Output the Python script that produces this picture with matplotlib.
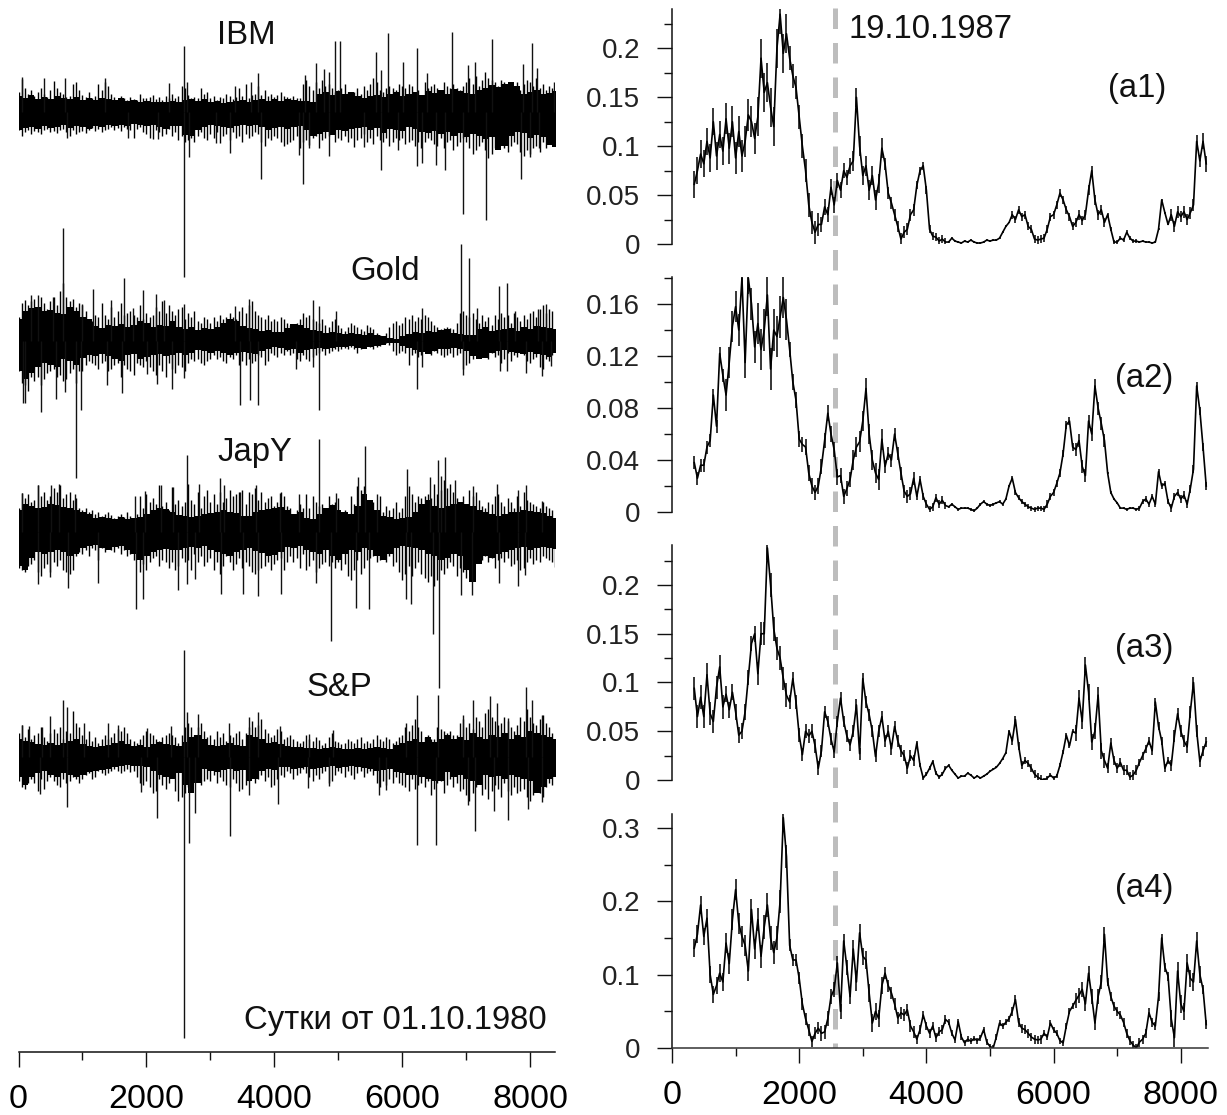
import numpy as np
import matplotlib
matplotlib.use('Agg')
import matplotlib.pyplot as plt

W, H = 1227, 1115

# left panel: solid core of each noisy band, pixels above / below its centre, one value per 100 days
ibm_up = [16,14,17,13,15,13,16,14,13,15,12,14,12,14,13,12,14,11,12,10,11,10,10,10,11,10,12,13,11,13,
          10,11,9,10,11,12,10,12,13,11,13,11,13,12,11,11,10,18,20,17,21,18,20,16,14,16,17,15,18,20,
          16,18,20,17,21,19,22,18,23,21,19,18,22,24,27,25,28,30,26,18,20,22,18,19,21,17]
ibm_dn = [18,16,15,17,14,16,15,13,16,14,15,17,14,15,13,14,13,14,12,13,14,13,15,17,14,14,23,24,18,15,
          13,14,15,16,14,13,14,13,15,18,16,15,17,15,14,18,24,22,20,23,18,19,17,16,15,18,16,21,17,18,
          19,15,17,20,21,19,22,20,24,21,25,22,24,27,25,38,34,24,20,21,26,23,25,33,35,28,22]
gold_up = [22,30,33,34,30,31,28,27,34,30,24,22,15,13,16,15,17,14,16,20,18,14,16,15,20,14,12,14,11,13,
           12,14,18,22,20,15,13,12,10,11,9,9,13,17,16,13,11,10,8,9,8,7,8,7,6,8,6,5,3,2,
           5,7,9,8,10,9,11,12,8,7,6,6,12,14,10,11,12,13,10,14,12,15,14,13,12]
gold_dn = [30,38,32,26,22,24,26,18,20,24,17,14,15,13,15,18,20,14,13,18,16,14,13,15,14,12,14,12,9,10,
           12,10,12,14,12,11,12,13,10,8,6,7,9,8,12,9,8,7,8,7,6,6,5,7,8,6,5,4,2,2,
           5,7,9,11,13,10,8,8,7,8,10,15,18,17,12,10,9,11,12,13,11,13,14,16,12]
jap_up = [22,28,26,24,25,28,27,25,24,22,20,18,14,15,14,13,15,13,14,15,18,22,24,23,20,17,16,15,16,18,
          19,20,22,20,19,16,16,20,22,23,24,25,22,18,20,14,13,18,24,27,22,20,18,26,38,32,22,16,15,13,
          14,15,20,28,32,26,24,26,28,30,28,26,22,20,18,16,18,20,20,22,21,20,19,16,14]
jap_dn = [34,38,26,20,22,20,18,20,24,22,16,14,13,16,18,15,14,18,22,28,24,20,18,17,18,18,16,15,16,14,
          18,20,22,24,20,18,16,19,21,24,23,20,15,16,14,18,20,22,18,24,28,22,18,20,16,18,24,28,22,16,
          14,15,16,18,22,24,28,26,22,24,38,50,32,24,26,22,20,18,16,15,18,16,15,16,17]
sp_up = [18,16,15,13,12,14,12,14,16,18,13,11,10,11,12,14,16,13,11,12,10,13,15,13,12,11,15,20,22,18,
         12,11,12,14,12,11,22,20,18,14,15,13,11,10,10,9,9,8,9,10,9,8,8,9,8,9,10,9,8,12,
         14,16,18,15,20,15,18,22,18,20,17,24,20,18,22,20,24,18,22,20,26,24,22,20,18]
sp_dn = [20,28,20,16,14,18,20,16,18,20,18,15,14,13,12,10,9,8,9,9,10,14,18,20,22,16,28,36,26,12,
         14,15,13,12,14,13,24,22,14,12,13,10,10,12,11,10,12,11,10,9,11,10,9,10,11,12,14,13,12,15,
         16,18,18,20,22,24,24,15,20,18,22,24,28,18,20,19,22,18,20,22,24,36,30,22,20]

# left panel: fringe of the band, pixels from centre, one value per 50 days
ibm_top = [20,33,24,18,22,16,20,24,18,15,22,31,24,20,18,15,16,28,30,22,
           17,15,20,14,16,28,22,30,26,18,15,12,16,14,12,15,13,12,18,14,
           14,15,17,13,15,12,16,14,18,14,16,26,24,17,14,15,14,24,18,20,
           14,16,12,15,14,18,16,13,15,24,16,28,14,17,18,26,17,22,16,18,
           15,17,20,16,15,14,16,14,14,28,32,26,22,30,24,32,26,28,24,20,
           22,24,28,20,18,20,24,18,26,22,28,34,30,22,20,24,26,24,22,28,
           26,24,28,26,20,22,16,30,24,26,28,24,22,30,26,24,28,24,22,26,
           30,34,28,36,26,32,40,34,32,30,26,32,30,24,20,26,30,22,28,32,
           30,26,34,24,28,22,26,24]
ibm_bot = [18,24,20,18,22,19,20,22,18,17,20,19,21,18,17,20,24,18,22,20,
           19,21,18,16,19,17,20,18,17,15,18,16,19,15,17,18,26,17,15,20,
           22,26,27,18,20,24,22,17,24,20,28,24,30,28,26,30,24,20,26,28,
           22,26,20,31,24,22,28,20,26,24,30,22,26,24,20,22,30,34,26,28,
           24,26,30,34,32,30,28,24,36,30,28,33,26,24,36,28,26,24,22,30,
           26,28,24,30,26,35,28,26,22,30,26,32,24,28,30,26,34,30,26,28,
           26,32,30,28,34,30,36,30,26,28,32,34,26,36,30,28,38,34,30,26,
           30,36,42,38,34,30,38,46,42,36,30,32,36,40,34,30,32,40,44,38,
           42,36,34,40,30,36,26,28]
gold_top = [24,38,41,36,40,42,34,44,38,32,40,44,36,50,58,44,40,42,34,38,
            36,30,22,20,26,24,38,26,22,34,24,30,38,26,28,30,26,24,36,22,
            28,24,26,34,30,40,28,36,30,26,32,34,22,28,24,30,20,18,24,22,
            18,24,20,26,22,24,28,24,22,30,34,28,36,40,30,26,24,22,26,20,
            22,20,24,22,18,16,15,18,22,28,24,26,22,20,18,22,16,14,20,22,
            16,13,10,14,18,16,14,12,10,16,14,12,8,6,4,8,14,18,20,16,
            18,24,22,26,20,24,22,26,24,20,16,14,12,13,14,13,12,18,28,30,
            26,24,28,22,18,26,20,24,16,26,22,28,24,26,18,28,24,20,26,22,
            28,30,24,32,36,28,32,30]
gold_bot = [30,42,44,50,36,40,36,44,38,32,30,28,36,34,40,38,32,28,42,30,
            30,24,20,22,24,28,22,20,30,28,24,22,36,24,28,30,34,22,24,26,
            20,26,30,34,24,30,36,22,28,32,24,26,30,22,18,20,18,22,24,20,
            18,14,18,16,20,22,16,18,14,24,20,24,18,22,20,14,16,24,20,12,
            14,16,12,14,10,14,12,18,20,14,18,20,16,14,12,10,14,12,10,8,
            10,8,7,8,6,8,12,8,6,4,6,8,6,5,2,2,4,10,14,12,
            10,12,24,14,12,16,14,10,12,14,10,12,14,16,14,12,16,14,12,28,
            24,22,18,14,10,12,14,18,12,16,14,22,18,12,20,14,16,12,14,20,
            22,18,16,26,28,18,20,14]
jap_top = [24,39,34,38,30,32,47,36,40,32,36,44,40,47,34,38,40,32,34,24,
           22,24,20,22,18,20,16,18,20,17,14,16,18,15,20,16,14,18,36,24,
           38,30,34,28,47,26,30,22,45,28,32,26,30,48,32,28,40,24,36,42,
           30,38,28,40,30,34,42,36,38,40,42,28,40,38,44,32,40,30,34,36,
           26,30,40,36,26,24,18,22,28,24,38,24,36,30,26,28,22,36,28,30,
           34,20,22,18,36,28,46,42,46,32,24,30,22,36,20,26,22,24,30,20,
           24,36,46,38,30,36,34,36,38,34,48,38,42,52,44,48,40,34,28,36,
           28,42,36,40,32,26,24,30,28,36,38,30,26,34,30,24,36,26,40,32,
           30,28,26,24,30,26,24,22]
jap_bot = [36,38,40,34,32,28,40,44,36,32,40,30,34,28,38,40,42,38,24,20,
           22,18,24,16,18,28,16,20,14,18,20,16,22,18,24,22,28,20,40,32,
           38,30,26,24,34,28,30,36,30,38,34,26,30,28,38,22,30,24,34,30,
           26,38,30,42,34,24,30,38,32,26,36,30,34,40,42,38,36,34,30,38,
           32,28,26,38,30,24,30,26,36,22,38,34,28,40,36,32,30,34,30,36,
           30,38,32,44,48,38,28,42,36,28,26,24,30,28,26,30,24,34,30,40,
           48,42,34,44,36,30,42,46,50,44,54,48,38,42,36,30,34,44,36,40,
           46,38,30,28,26,28,24,30,26,36,28,26,30,26,34,32,28,38,36,30,
           26,32,28,30,24,26,28,30]
sp_top = [24,32,20,28,18,22,24,30,20,16,24,28,24,30,18,26,24,46,34,30,
          22,18,26,16,20,14,18,22,18,20,24,28,26,30,24,18,16,14,18,22,
          26,24,22,18,16,20,22,24,22,20,14,22,30,34,30,22,30,34,26,20,
          22,18,26,20,24,16,22,20,24,26,18,24,30,36,30,32,38,28,24,20,
          22,28,26,18,20,22,18,16,14,16,22,18,16,20,17,12,14,20,24,16,
          15,13,14,18,16,14,18,20,14,16,14,18,22,18,16,20,18,14,16,20,
          22,30,26,32,38,30,26,20,22,18,18,30,28,26,24,26,22,22,34,38,
          30,34,28,40,36,30,44,48,40,36,32,34,40,36,30,26,32,40,36,48,
          40,34,32,38,42,34,30,24]
sp_bot = [24,30,32,26,22,26,34,22,32,24,20,24,28,30,22,26,24,20,22,26,
          22,18,16,22,20,14,16,18,16,14,12,14,16,14,12,15,14,20,26,28,
          24,30,36,34,22,28,32,26,20,34,44,40,36,30,26,24,22,28,24,22,
          24,18,26,20,24,28,30,22,26,34,32,28,24,20,26,22,18,24,20,30,
          28,22,18,20,14,16,22,18,16,12,16,20,24,18,22,16,14,26,24,18,
          14,16,20,14,18,22,16,14,20,16,14,18,26,30,24,28,22,26,20,26,
          28,30,34,22,32,28,26,30,24,38,32,26,24,36,28,22,30,26,34,32,
          38,44,36,30,26,38,32,42,34,28,32,40,26,34,38,30,36,34,32,40,
          44,38,32,36,40,30,26,28]

# left panel: single spikes, (day, pixels from centre)
ibm_spikes = [(2584,66),(3750,39),(4945,71),(5030,71),(4660,49),(4775,43),(4860,40),(4478,37),(5588,60),(5775,79),
              (5667,42),(6008,50),(6225,64),(6385,39),(6783,80),(7022,47),(7146,50),(7403,73),(7887,48),(8029,69),
              (8114,44),(8370,30),(51,35),(393,34),(734,34),(1360,34),(2356,29),(2640,30),(3380,26),(3636,30),
              (2584,-165),(2669,-45),(3306,-41),(3084,-31),(3795,-67),(4444,-72),(4547,-36),(4387,-43),(4860,-44),(5400,-35),
              (5667,-58),(5940,-38),(6225,-54),(6310,-51),(6527,-53),(6663,-58),(6948,-102),(7306,-108),(7858,-67),(8000,-45),
              (8143,-36),(1713,-26),(751,-26),(2185,-27)]
gold_spikes = [(694,113),(1172,52),(1645,63),(1946,51),(2157,47),(2270,41),(2584,37),(3380,35),(3608,42),(4603,41),
               (4706,35),(4973,30),(6310,33),(6919,97),(7050,83),(7522,55),(7636,58),(8245,37),(7164,33),(7762,30),
               (194,46),(307,46),(535,44),(990,37),(1445,41),(1787,33),(8131,32),
               (894,-137),(973,-69),(359,-71),(63,-62),(97,-62),(580,-58),(734,-51),(1616,-52),(1389,-44),(2396,-48),
               (2168,-43),(2584,-37),(3471,-64),(3613,-59),(3750,-64),(4700,-69),(4336,-28),(4603,-26),(6225,-48),(6310,-26),
               (6948,-34),(7534,-30),(7636,-30),(7943,-32),(8188,-35),(8330,-25),(2015,-33)]
jap_spikes = [(51,39),(307,47),(506,47),(637,48),(876,38),(1815,36),(1986,41),(2225,47),(2413,45),(2640,77),
              (2828,48),(3152,54),(3220,47),(3465,40),(3721,47),(4091,39),(4387,38),(4700,93),(4973,39),(5315,55),
              (5417,86),(5610,38),(6083,63),(6441,55),(6555,72),(6663,75),(6612,56),(6822,52),(7107,46),(7477,48),
              (7818,42),(7932,47),(8188,31),
              (307,-52),(774,-56),(495,-45),(1246,-51),(1832,-77),(1946,-67),(2498,-58),(2640,-52),(2754,-47),(3164,-62),
              (3505,-62),(3750,-64),(4109,-62),(4660,-51),(4888,-109),(5275,-76),(5474,-77),(6054,-67),(6140,-72),(6481,-102),
              (6578,-156),(6925,-63),(7096,-63),(7522,-51),(7807,-54),(7915,-43),(8387,-35)]
sp_spikes = [(2584,107),(694,57),(762,50),(495,41),(51,32),(165,31),(364,30),(1030,34),(1400,34),(1559,32),
             (2015,29),(2385,31),(2640,45),(2811,43),(3295,34),(3608,40),(3750,45),(4091,31),(4547,23),(4916,27),
             (6225,62),(6054,34),(6567,62),(6948,42),(7107,57),(7380,61),(7477,54),(7648,39),(7943,70),(8029,57),(8188,42),
             (2584,-281),(751,-50),(2168,-61),(1918,-35),(2669,-86),(2754,-56),(3306,-79),(4052,-47),(3608,-38),(4535,-31),
             (4860,-29),(5639,-38),(5742,-33),(6225,-88),(6527,-88),(7022,-48),(7136,-74),(7437,-54),(7648,-63),(7960,-52),
             (8188,-45),(336,-37)]

# right panels, one value per 50 days starting from day 350
a1 = [.061,.075,.092,.082,.105,.088,.125,.09,.112,.095,
      .128,.098,.125,.088,.115,.09,.105,.132,.125,.108,
      .13,.19,.155,.165,.14,.12,.2,.235,.195,.215,
      .19,.172,.16,.13,.10,.075,.04,.022,.012,.02,
      .02,.038,.03,.058,.04,.065,.055,.075,.068,.08,
      .085,.15,.10,.07,.08,.055,.07,.045,.062,.098,
      .082,.052,.042,.03,.018,.005,.012,.015,.03,.035,
      .06,.075,.08,.055,.015,.008,.007,.003,.005,.002,
      .002,.006,.003,.002,.001,.003,.002,.004,.002,.001,
      .001,.002,.004,.003,.004,.004,.006,.012,.018,.022,
      .03,.025,.035,.028,.03,.018,.015,.005,.004,.005,
      .006,.015,.028,.03,.04,.052,.045,.035,.028,.018,
      .022,.03,.024,.03,.055,.075,.045,.03,.035,.022,
      .03,.015,.002,.002,.006,.004,.012,.006,.003,.003,
      .002,.003,.002,.002,.001,.002,.015,.045,.032,.02,
      .03,.018,.033,.028,.033,.025,.032,.04,.105,.085,
      .105,.082]
a2 = [.038,.026,.036,.036,.05,.055,.09,.066,.122,.105,
      .09,.115,.143,.158,.14,.18,.115,.18,.16,.127,
      .145,.125,.14,.167,.11,.14,.135,.15,.165,.148,
      .125,.1,.086,.056,.052,.05,.03,.02,.015,.02,
      .035,.055,.076,.06,.048,.027,.028,.012,.018,.025,
      .04,.05,.054,.07,.095,.06,.04,.03,.025,.056,
      .035,.045,.04,.06,.045,.03,.016,.012,.014,.026,
      .012,.025,.012,.006,.002,.004,.011,.006,.009,.005,
      .004,.006,.004,.002,.003,.003,.003,.002,.001,.003,
      .006,.008,.006,.005,.006,.007,.008,.006,.01,.02,
      .026,.015,.011,.008,.006,.004,.003,.002,.003,.003,
      .002,.006,.012,.015,.022,.03,.045,.067,.07,.05,
      .048,.055,.035,.028,.07,.06,.097,.08,.068,.055,
      .03,.015,.01,.007,.003,.003,.002,.003,.003,.002,
      .003,.008,.01,.006,.012,.006,.031,.02,.022,.008,
      .003,.012,.015,.01,.013,.006,.018,.033,.097,.078,
      .05,.02]
a3 = [.094,.065,.085,.065,.108,.068,.06,.095,.116,.075,
      .088,.072,.09,.07,.046,.05,.07,.105,.14,.15,
      .109,.15,.15,.238,.2,.155,.135,.125,.104,.087,
      .08,.104,.08,.046,.026,.05,.045,.05,.035,.012,
      .03,.07,.06,.042,.029,.06,.084,.06,.045,.036,
      .05,.077,.027,.104,.08,.067,.05,.024,.05,.065,
      .04,.05,.032,.055,.04,.03,.025,.012,.025,.02,
      .038,.015,.002,.006,.012,.019,.007,.003,.006,.012,
      .015,.01,.006,.002,.004,.004,.007,.005,.002,.004,
      .002,.004,.006,.009,.011,.013,.017,.022,.028,.05,
      .04,.062,.035,.015,.02,.017,.012,.006,.003,.001,
      0,.002,.005,.002,.004,.015,.029,.046,.035,.05,
      .048,.084,.06,.118,.09,.039,.05,.087,.03,.02,
      .012,.038,.02,.012,.018,.01,.01,.003,.005,.01,
      .018,.025,.032,.04,.03,.08,.055,.04,.012,.02,
      .015,.045,.068,.05,.04,.034,.07,.1,.05,.019,
      .03,.039]
a4 = [.136,.155,.195,.152,.177,.10,.073,.085,.102,.09,
      .143,.115,.175,.216,.17,.152,.14,.105,.189,.135,
      .175,.125,.165,.195,.15,.13,.15,.2,.314,.261,
      .14,.12,.12,.095,.06,.04,.025,.009,.02,.027,
      .02,.022,.04,.07,.08,.116,.05,.146,.11,.07,
      .135,.09,.157,.125,.12,.075,.034,.05,.04,.085,
      .102,.085,.075,.06,.041,.048,.045,.052,.03,.022,
      .012,.025,.045,.03,.02,.03,.014,.022,.025,.039,
      .035,.02,.011,.036,.015,.007,.012,.009,.013,.01,
      .014,.025,.008,.002,0,.015,.034,.03,.035,.04,
      .05,.066,.035,.027,.025,.02,.015,.012,.011,.012,
      .02,.015,.034,.025,.02,.01,.007,.03,.05,.057,
      .065,.072,.08,.06,.102,.07,.034,.07,.09,.155,
      .09,.07,.057,.05,.045,.035,.02,.01,.004,0,
      .008,.012,.02,.048,.035,.03,.07,.15,.11,.098,
      .04,.014,.105,.06,.05,.116,.095,.09,.146,.1,
      .08,.032]

# right panels: half-width of the daily jitter around the curve, one value per 500 days
a1_jit = [.014,.016,.02,.012,.008,.01,.006,.004,.001,.001,.004,.004,.005,.002,.001,.006,.008]
a2_jit = [.005,.012,.016,.006,.006,.008,.005,.003,.001,.001,.002,.003,.005,.001,.002,.003,.003]
a3_jit = [.012,.008,.012,.007,.006,.006,.006,.002,.001,.001,.004,.002,.008,.005,.004,.006,.005]
a4_jit = [.012,.014,.016,.008,.01,.012,.008,.006,.004,.004,.006,.004,.01,.006,.006,.012,.006]

crash_day = 2560

plt.rcParams['font.family'] = ['Liberation Sans', 'DejaVu Sans']
INK = '#111111'


def axes_px(fig, left, top, right, bottom):
    return fig.add_axes([left / W, 1 - bottom / H, (right - left) / W, (bottom - top) / H])


fig = plt.figure(figsize=(W / 100, H / 100), dpi=100)

# grey dashed marker sits under the curves
back = axes_px(fig, 672, 8, 1208, 1048)
back.set_xlim(0, 8428)
back.set_ylim(0, 1)
back.axis('off')
back.plot([crash_day, crash_day], [1, 0], color='#bdbdbd', lw=3.6, dashes=(4.1, 2.8))

# left noisy series
left = axes_px(fig, 18.5, 0, 555, 1052)
left.set_xlim(0, 8390)
left.set_ylim(1052, 0)
left.patch.set_visible(False)
for name in ['top', 'left', 'right']:
    left.spines[name].set_visible(False)
left.spines['bottom'].set_color(INK)
left.spines['bottom'].set_linewidth(1.1)

series = [(112, ibm_up, ibm_dn, ibm_top, ibm_bot, ibm_spikes),
          (341, gold_up, gold_dn, gold_top, gold_bot, gold_spikes),
          (532, jap_up, jap_dn, jap_top, jap_bot, jap_spikes),
          (757, sp_up, sp_dn, sp_top, sp_bot, sp_spikes)]
for centre, up, dn, fr_top, fr_bot, spikes in series:
    n = min(len(up), len(dn))
    xs = np.arange(n) * 100
    left.fill_between(xs, centre - np.array(up[:n]), centre + np.array(dn[:n]), color='black', lw=0, step='mid')
    # comb of fine teeth gives the band its hairy edge
    days = np.arange(len(fr_top)) * 50
    left.vlines(days, centre - np.array(fr_top), centre, color='black', lw=1.0)
    days = np.arange(len(fr_bot)) * 50
    left.vlines(days, centre, centre + np.array(fr_bot), color='black', lw=1.0)
    days = [s[0] for s in spikes]
    ends = [centre - s[1] for s in spikes]
    left.vlines(days, centre, ends, color=INK, lw=1.0)

left.set_xticks([0, 2000, 4000, 6000, 8000])
left.set_xticks([1000, 3000, 5000, 7000], minor=True)
left.set_yticks([])
left.tick_params(axis='x', which='major', length=10.8, width=1.0, color=INK, labelsize=24.5, pad=12)
left.tick_params(axis='x', which='minor', length=5.8, width=1.0, color=INK)

# right panels
panels = [(9, 244, a1, a1_jit, 0.2403, [0, .05, .1, .15, .2], ['0', '0.05', '0.1', '0.15', '0.2'], .025),
          (277, 512, a2, a2_jit, 0.1808, [0, .04, .08, .12, .16], ['0', '0.04', '0.08', '0.12', '0.16'], .02),
          (545, 780, a3, a3_jit, 0.241, [0, .05, .1, .15, .2], ['0', '0.05', '0.1', '0.15', '0.2'], .025),
          (814, 1048, a4, a4_jit, 0.319, [0, .1, .2, .3], ['0', '0.1', '0.2', '0.3'], .05)]
for i, (top, bottom, vals, jit, ymax, ticks, labels, minor) in enumerate(panels):
    ax = axes_px(fig, 672, top, 1208, bottom)
    ax.patch.set_visible(False)
    ax.set_xlim(0, 8428)
    ax.set_ylim(0, ymax)
    vals = np.array(vals)
    days = 350 + np.arange(len(vals)) * 50
    half = np.repeat(jit, 10)[:len(vals)]
    ax.plot(days, vals, color='black', lw=1.2)
    ax.vlines(days, np.maximum(vals - half, 0), np.minimum(vals + half, ymax), color='black', lw=1.1)
    for name in ['top', 'right', 'bottom']:
        ax.spines[name].set_visible(False)
    ax.spines['left'].set_color(INK)
    ax.spines['left'].set_linewidth(1.1)
    ax.set_yticks(ticks)
    ax.set_yticklabels(labels)
    minors = [t + minor for t in ticks if t + minor < ymax]
    ax.set_yticks(minors, minor=True)
    ax.tick_params(axis='y', which='major', length=10.8, width=1.0, color=INK, labelsize=20, pad=12, labelcolor='#222222')
    ax.tick_params(axis='y', which='minor', length=5.8, width=1.0, color=INK)
    if i == 3:
        ax.spines['bottom'].set_visible(True)
        ax.spines['bottom'].set_color('#333333')
        ax.spines['bottom'].set_linewidth(1.1)
        ax.set_xticks([0, 2000, 4000, 6000, 8000])
        ax.set_xticks([1000, 3000, 5000, 7000], minor=True)
        ax.tick_params(axis='x', which='major', length=10.8, width=1.0, color=INK, labelsize=24.5, pad=12)
        ax.tick_params(axis='x', which='minor', length=5.8, width=1.0, color=INK)
    else:
        ax.set_xticks([])

texts = [('IBM', 246, 35), ('Gold', 385, 271), ('JapY', 255, 452), ('S&P', 339, 687),
         ('19.10.1987', 930, 29), ('Сутки от 01.10.1980', 395, 1020),
         ('(a1)', 1137, 88), ('(a2)', 1144, 379), ('(a3)', 1144, 649), ('(a4)', 1144, 888)]
for s, x, y in texts:
    fig.text(x / W, 1 - y / H, s, fontsize=23.7, ha='center', va='center', color='#111111')

fig.savefig('out.png', dpi=100)
